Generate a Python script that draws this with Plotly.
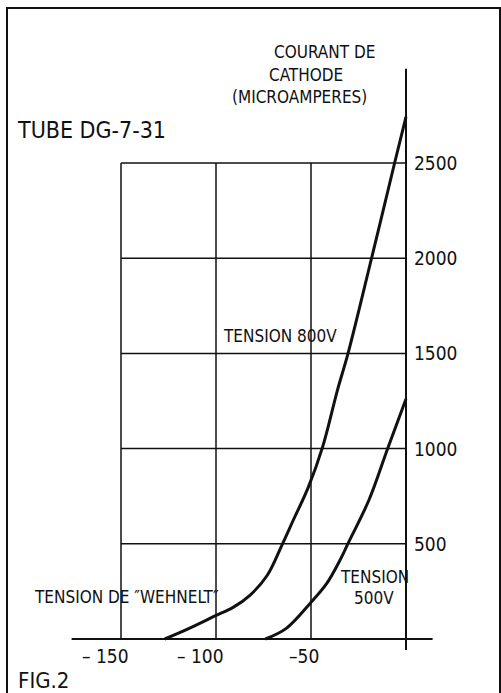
import plotly.graph_objects as go

# Wehnelt grid voltage (V) vs cathode current (microamperes), tube DG-7-31
v_800 = [-127, -115, -100.5, -91, -82, -73, -65, -59.3, -51.5, -44, -36, -30.5, -18, -6, 0]
i_800 = [0, 52, 121, 166, 231, 335, 500, 625, 795, 1005, 1310, 1500, 2005, 2500, 2742]

v_500 = [-74, -63, -50.5, -41.7, -34.7, -30.5, -19.5, -9.5, 0]
i_500 = [0, 56, 187, 292, 415, 502, 730, 1005, 1260]

x_ticks = [-150, -100, -50]
x_tick_labels = ["– 150", "– 100", "–50"]
y_ticks = [500, 1000, 1500, 2000, 2500]
y_tick_labels = ["500", "1000", "1500", "2000", "2500"]

W, H = 501, 693
# pixel scale of the drawing
PX_X0, PX_PER_V = 406, 1.9
PX_Y0, PX_PER_UA = 639, 0.1904
x_range = [-PX_X0 / PX_PER_V, (W - PX_X0) / PX_PER_V]
y_range = [-(H - PX_Y0) / PX_PER_UA, PX_Y0 / PX_PER_UA]

FONT = "DejaVu Sans Condensed, Liberation Sans Narrow, Liberation Sans, sans-serif"
INK = "#111111"

fig = go.Figure()

curve = dict(color=INK, width=3, shape="spline", smoothing=1.0)
fig.add_trace(go.Scatter(x=v_800, y=i_800, mode="lines", line=curve,
                         hoverinfo="skip", showlegend=False))
fig.add_trace(go.Scatter(x=v_500, y=i_500, mode="lines", line=curve,
                         hoverinfo="skip", showlegend=False))

shapes = []
grid = dict(color=INK, width=1.5)
x_left, x_right = min(x_ticks), 0
y_top = max(y_ticks)
# horizontal grid lines
for yv in y_ticks:
    shapes.append(dict(type="line", xref="x", yref="y", x0=x_left, x1=x_right,
                       y0=yv, y1=yv, line=grid, layer="below"))
# vertical grid lines
for xv in x_ticks:
    shapes.append(dict(type="line", xref="x", yref="y", x0=xv, x1=xv,
                       y0=0, y1=y_top, line=grid, layer="below"))
# axes
shapes.append(dict(type="line", xref="x", yref="y", x0=-176, x1=14, y0=0, y1=0,
                   line=dict(color=INK, width=2), layer="below"))
shapes.append(dict(type="line", xref="x", yref="y", x0=0, x1=0, y0=-58, y1=2995,
                   line=dict(color=INK, width=2), layer="below"))
# page frame
shapes.append(dict(type="path", xref="paper", yref="paper",
                   path=f"M {7/W},-0.02 L {7/W},{1-8/H} L {500/W},{1-8/H} L {500/W},-0.02",
                   line=dict(color=INK, width=2)))

annotations = []
for xv, lab in zip(x_ticks, x_tick_labels):
    annotations.append(dict(x=xv, y=0, xref="x", yref="y", text=lab, showarrow=False,
                            xanchor="right", yanchor="middle", xshift=10, yshift=-17,
                            font=dict(family=FONT, size=19, color=INK)))
for yv, lab in zip(y_ticks, y_tick_labels):
    annotations.append(dict(x=0, y=yv, xref="x", yref="y", text=lab, showarrow=False,
                            xanchor="left", yanchor="middle", xshift=6,
                            font=dict(family=FONT, size=19, color=INK)))


def label(text, px, py, size, anchor="center"):
    annotations.append(dict(x=px / W, y=1 - py / H, xref="paper", yref="paper",
                            text=text, showarrow=False, xanchor=anchor, yanchor="middle",
                            align=anchor if anchor != "center" else "center",
                            font=dict(family=FONT, size=size, color=INK)))


label("COURANT DE", 324, 52, 17)
label("CATHODE", 306, 75, 17)
label("(MICROAMPERES)", 299, 97, 17)
label("TUBE DG-7-31", 15, 130, 23, anchor="left")
label("TENSION 800V", 221, 336, 17, anchor="left")
label("TENSION DE \u2033WEHNELT\u2033", 32, 597, 17, anchor="left")
label("TENSION", 374, 577, 17)
label("500V", 374, 598, 17)
label("FIG.2", 16, 680, 22, anchor="left")

fig.update_layout(
    width=W, height=H,
    margin=dict(l=0, r=0, t=0, b=0),
    paper_bgcolor="white", plot_bgcolor="white",
    xaxis=dict(range=x_range, visible=False, fixedrange=True),
    yaxis=dict(range=y_range, visible=False, fixedrange=True),
    shapes=shapes, annotations=annotations,
    showlegend=False,
)

fig.write_html("out.html", config={"displayModeBar": False})
